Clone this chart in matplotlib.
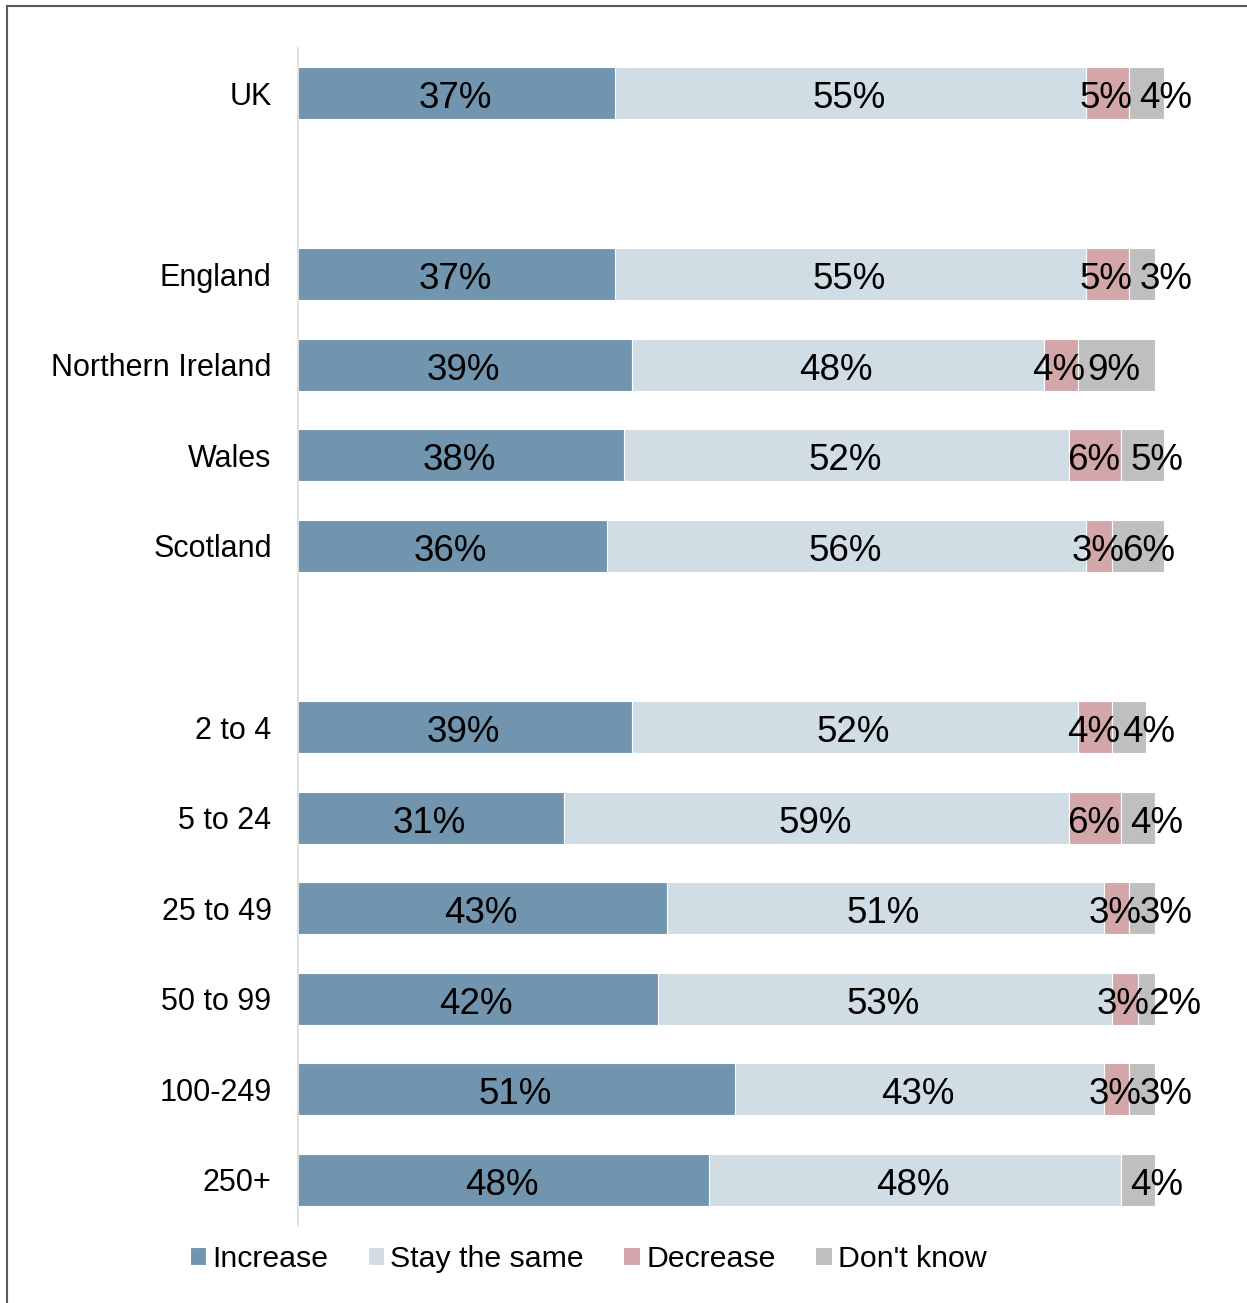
import matplotlib
matplotlib.use("Agg")
import matplotlib.pyplot as plt
from matplotlib.lines import Line2D

plt.rcParams["font.family"] = ["Liberation Sans", "DejaVu Sans"]

# rows, split into groups (a blank row is left between groups)
groups = [
    ["UK"],
    ["England", "Northern Ireland", "Wales", "Scotland"],
    ["2 to 4", "5 to 24", "25 to 49", "50 to 99", "100-249", "250+"],
]
series = ["Increase", "Stay the same", "Decrease", "Don't know"]
increase = [37, 37, 39, 38, 36, 39, 31, 43, 42, 51, 48]
stay_same = [55, 55, 48, 52, 56, 52, 59, 51, 53, 43, 48]
decrease = [5, 5, 4, 6, 3, 4, 6, 3, 3, 3, 0]
dont_know = [4, 3, 9, 5, 6, 4, 4, 3, 2, 3, 4]
colors = ["#7195AE", "#D0DDE4", "#D3A7A9", "#BFBFBF"]

labels = []
ypos = []
row = 0
for g in groups:
    for name in g:
        labels.append(name)
        ypos.append(row)
        row += 1
    row += 1
nrows = row - 1

fig = plt.figure(figsize=(12.47, 13.03), dpi=100)
ax = fig.add_axes([298 / 1247, 78 / 1303, 942.7 / 1247, 1177 / 1303])

data = [increase, stay_same, decrease, dont_know]
left = [0] * len(labels)
for i, (name, vals, col) in enumerate(zip(series, data, colors)):
    ax.barh(ypos, vals, left=left, height=0.575, color=col,
            edgecolor="white", linewidth=0.8, label=name)
    for y, l, v in zip(ypos, left, vals):
        if v <= 0:
            continue
        if i == len(series) - 1:
            # last segment label sits just inside the segment start
            ax.text(l + 1.15, y + 0.166, f"{v}%", ha="left", va="baseline",
                    fontsize=26.5, color="black")
        else:
            ax.text(l + v / 2 - 0.2, y + 0.166, f"{v}%", ha="center",
                    va="baseline", fontsize=26.5, color="black")
    left = [a + b for a, b in zip(left, vals)]

ax.set_xlim(0, 110)
ax.set_ylim(nrows - 0.5, -0.5)
ax.set_yticks(ypos)
ax.set_yticklabels(labels, fontsize=22)
ax.tick_params(axis="y", length=0, pad=19)
ax.set_xticks([])
for s in ["top", "right", "bottom"]:
    ax.spines[s].set_visible(False)
ax.spines["left"].set_color("#D9D9D9")
ax.spines["left"].set_linewidth(1.2)

leg = fig.legend(loc="center", bbox_to_anchor=(588 / 1247, 1 - 1259 / 1303),
                 ncol=4, frameon=False, fontsize=21.8, handlelength=0.55,
                 handleheight=0.55, handletextpad=0.2, columnspacing=1.3)

# outer frame (top and left edges visible)
fig.add_artist(Line2D([7 / 1247, 1], [1 - 6 / 1303, 1 - 6 / 1303],
                      color="#595959", linewidth=1.5, transform=fig.transFigure))
fig.add_artist(Line2D([7 / 1247, 7 / 1247], [0, 1 - 6 / 1303],
                      color="#595959", linewidth=1.5, transform=fig.transFigure))

fig.savefig("out.png", dpi=100)
